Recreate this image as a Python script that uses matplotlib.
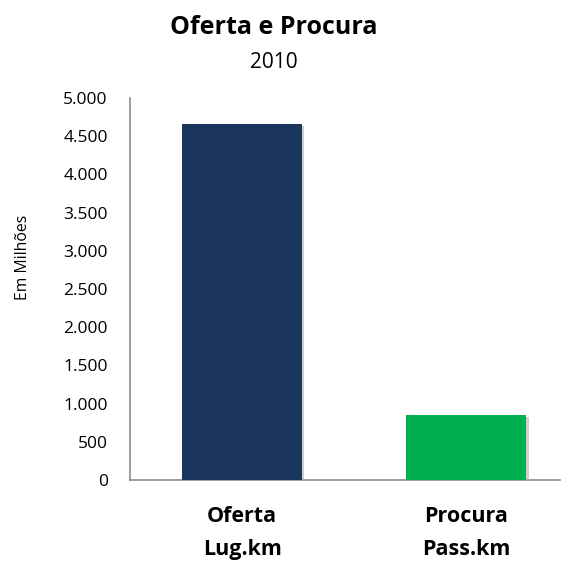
import matplotlib.pyplot as plt
from matplotlib import patheffects as pe
from matplotlib.ticker import FuncFormatter

categorias = ['Oferta\nLug.km', 'Procura\nPass.km']
valores = [4660, 855]
cores = ['#1B365D', '#00B050']
y_ticks = list(range(0, 5001, 500))

plt.rcParams['font.family'] = ['Open Sans', 'DejaVu Sans']

fig = plt.figure(figsize=(5.68, 5.61), dpi=100)
ax = fig.add_axes([130 / 568, 1 - 480 / 561, 430 / 568, 382 / 561])

barras = ax.bar(range(len(categorias)), valores, width=0.535, color=cores, zorder=3)
for b in barras:
    b.set_path_effects([pe.SimplePatchShadow(offset=(1.5, -1.5), shadow_rgbFace='#b0b0b0', alpha=0.6), pe.Normal()])

ax.set_xlim(-0.5, 1.417)
ax.set_ylim(0, 5000)
ax.set_yticks(y_ticks)
ax.yaxis.set_major_formatter(FuncFormatter(lambda v, p: f'{int(v):,}'.replace(',', '.')))
ax.set_xticks(range(len(categorias)))
ax.set_xticklabels(categorias, fontsize=15.5, fontweight='bold', linespacing=1.7)
ax.tick_params(axis='y', length=0, labelsize=12.5, pad=16)
ax.tick_params(axis='x', length=0, pad=19)

for s in ['top', 'right']:
    ax.spines[s].set_visible(False)
for s in ['left', 'bottom']:
    ax.spines[s].set_color('#8c8c8c')
    ax.spines[s].set_linewidth(1.2)

fig.text(23 / 568, 1 - 257 / 561, 'Em Milhões', rotation=90, ha='center', va='center', fontsize=11.3)

fig.text(274 / 568, 1 - 27 / 561, 'Oferta e Procura', ha='center', va='center', fontsize=18, fontweight='bold')
fig.text(274 / 568, 1 - 62 / 561, '2010', ha='center', va='center', fontsize=15)

fig.savefig('out.png', dpi=100)
